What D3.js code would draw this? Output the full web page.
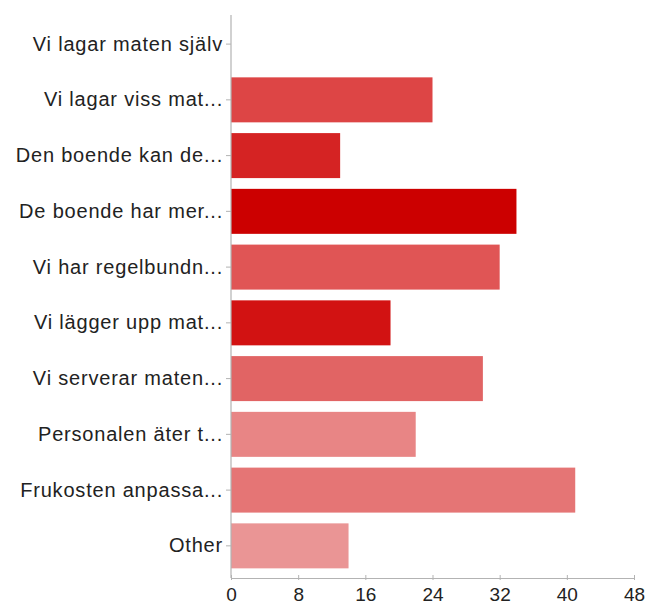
<!DOCTYPE html>
<html><head><meta charset="utf-8">
<script src="https://cdn.jsdelivr.net/npm/d3@7"></script>
<style>body{margin:0;background:#fff}svg{display:block}</style>
</head><body>
<svg id="c" width="649" height="606"></svg>
<script>
const categories = ["Vi lagar maten själv","Vi lagar viss mat...","Den boende kan de...","De boende har mer...","Vi har regelbundn...","Vi lägger upp mat...","Vi serverar maten...","Personalen äter t...","Frukosten anpassa...","Other"];
const values = [0,24,13,34,32,19,30,22,41,14];
const colors = ["#cc0000","#dd4545","#d52323","#cc0000","#e05555","#d21212","#e16464","#e88585","#e57575","#ea9595"];
const xTicks = [0,8,16,24,32,40,48];

const svg = d3.select("#c");
const x = d3.scaleLinear().domain([0,48]).range([231,634]);
const y = d3.scaleBand().domain(categories).range([10.45,579.5]).paddingInner(0.193).paddingOuter(0.2);

svg.selectAll("rect.bar").data(categories).join("rect")
  .attr("class","bar")
  .attr("x", x(0))
  .attr("y", d=>y(d))
  .attr("width", (d,i)=>x(values[i])-x(0))
  .attr("height", y.bandwidth())
  .attr("fill",(d,i)=>colors[i]);

const font = "'Liberation Sans', Arial, Helvetica, sans-serif";
// y axis
const ya = svg.append("g").attr("transform","translate(231,0)")
  .call(d3.axisLeft(y).tickSize(5).tickSizeOuter(0).tickPadding(3));
ya.select(".domain").remove();
ya.append("line").attr("x1",0).attr("x2",0).attr("y1",15).attr("y2",578).attr("stroke","#b3b3b3").attr("stroke-width",1.2);
ya.selectAll(".tick line").attr("stroke","#b3b3b3");
ya.selectAll(".tick text").attr("fill","#222").style("font-family",font).style("font-size","20px").style("letter-spacing","0.8px");

// x axis
const xa = svg.append("g").attr("transform","translate(0,578)")
  .call(d3.axisBottom(x).tickValues(xTicks).tickSize(4).tickSizeOuter(0).tickPadding(6));
xa.select(".domain").attr("stroke","#b3b3b3").attr("stroke-width",1.2);
xa.selectAll(".tick line").attr("y1",-3).attr("y2",2).attr("stroke","#b3b3b3");
xa.selectAll(".tick text").attr("fill","#222").style("font-family",font).style("font-size","19px");
</script>
</body></html>
